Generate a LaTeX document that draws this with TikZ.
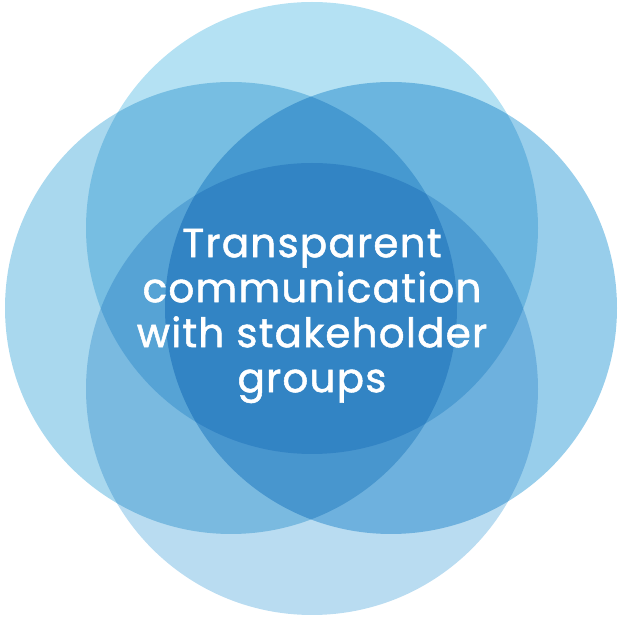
\documentclass[tikz,border=0pt]{standalone}
\usepackage{fontspec}
\setmainfont{Poppins}[FakeBold=1.3,LetterSpace=3]
\usepackage{tikz}
\usetikzlibrary{positioning}
\definecolor{topblue}{HTML}{B4E1F3}
\definecolor{leftblue}{HTML}{A9D8EE}
\definecolor{rightblue}{HTML}{98CEEB}
\definecolor{bottomblue}{HTML}{B9DCF1}

\begin{document}
\begin{tikzpicture}[x=1pt,y=1pt,bubble/.style={circle,minimum size=452pt,inner sep=0pt},every node/.style = {align=center}]
\useasboundingbox (0,0) rectangle (618,622);
\begin{scope}[blend group=multiply]
\node[bubble,fill=topblue] (top) at (312,394) {};
\node[bubble,fill=leftblue] (left) at (231,314) {};
\node[bubble,fill=rightblue] (right) at (391,314) {};
\node[bubble,fill=bottomblue] (bottom) at (312,233) {};
\end{scope}
\node[text=white,font=\fontsize{40.5}{45}\selectfont] (label) at (312,306)
    {Transparent\\communication\\with stakeholder\\groups};
\end{tikzpicture}
\end{document}
